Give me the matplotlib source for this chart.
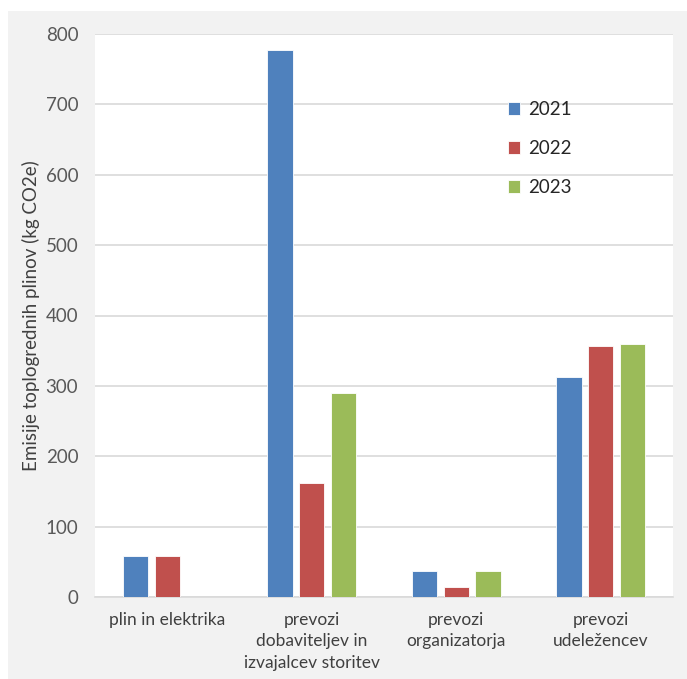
import matplotlib.pyplot as plt
import matplotlib.patches as mpatches
import numpy as np

categories = ["plin in elektrika", "prevozi\ndobaviteljev in\nizvajalcev storitev",
              "prevozi\norganizatorja", "prevozi\nudeležencev"]
years = ["2021", "2022", "2023"]
v2021 = [58, 777, 37, 313]
v2022 = [58, 162, 14, 356]
v2023 = [0, 290, 37, 359]
colors = ["#4f81bd", "#c0504d", "#9bbb59"]

plt.rcParams["font.family"] = ["Lato", "DejaVu Sans"]

fig = plt.figure(figsize=(6.87, 6.79), dpi=100)
fig.patches.append(mpatches.Rectangle((8 / 687, 0), 1, 1 - 11 / 679,
                                      transform=fig.transFigure,
                                      facecolor="#f2f2f2", edgecolor="none", zorder=-10))

ax = fig.add_axes([95 / 687, 82 / 679, 578 / 687, 563 / 679])
ax.set_facecolor("white")

x = np.arange(len(categories))
step = 0.22
w = 0.175
for i, (vals, yr) in enumerate(zip([v2021, v2022, v2023], years)):
    ax.bar(x + (i - 1) * step, vals, width=w, color=colors[i], label=yr,
           edgecolor="white", linewidth=0.6, zorder=3)

ax.set_xlim(-0.5, len(categories) - 0.5)
ax.set_ylim(0, 800)
ax.set_yticks(range(0, 801, 100))
ax.yaxis.grid(True, color="#d9d9d9", linewidth=1.2, zorder=0)
for s in ["top", "right", "left"]:
    ax.spines[s].set_visible(False)
ax.spines["bottom"].set_color("#d9d9d9")
ax.spines["bottom"].set_linewidth(1.2)

ax.set_xticks(x)
ax.set_xticklabels(categories, color="#404040", fontsize=12.5, linespacing=1.4)
ax.tick_params(axis="x", length=0, pad=11)
ax.tick_params(axis="y", length=0, pad=12, labelsize=13.5, labelcolor="#595959")

ax.set_ylabel("Emisije toplogrednih plinov (kg CO2e)", fontsize=13.5, color="#404040", labelpad=4)

leg = ax.legend(loc="upper left", bbox_to_anchor=(0.685, 0.911), frameon=False,
                fontsize=13.5, handlelength=0.65, handleheight=0.65,
                labelspacing=1.17, handletextpad=0.45)
for t in leg.get_texts():
    t.set_color("#262626")

fig.savefig("out.png", dpi=100, facecolor="white")
